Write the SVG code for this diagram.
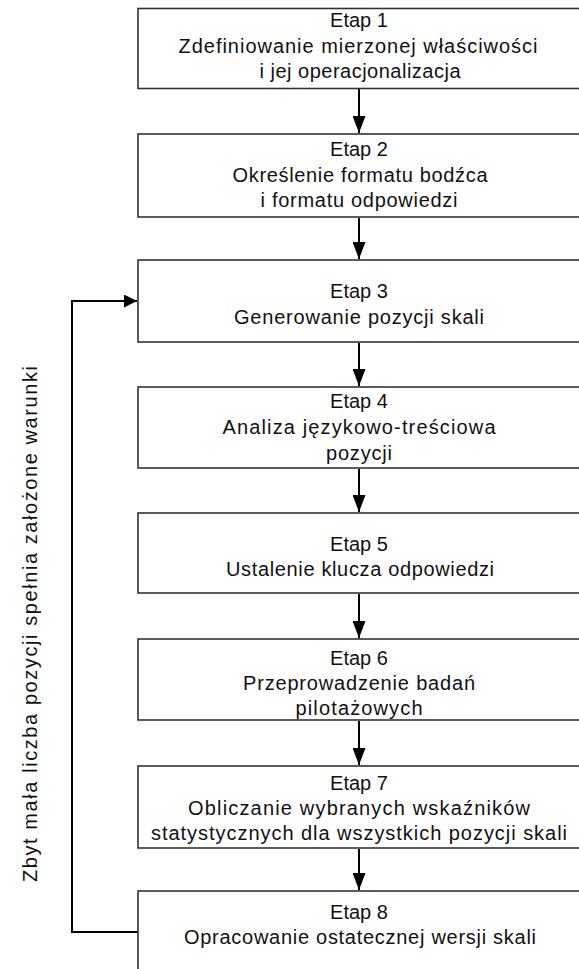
<svg xmlns="http://www.w3.org/2000/svg" width="579" height="969" viewBox="0 0 579 969">
  <style>
    .box { fill: #ffffff; stroke: #333333; stroke-width: 1.6; }
    .lbl { font-family: "Liberation Sans", Arial, sans-serif; font-size: 20px; fill: #111111; text-anchor: middle; }
    .link { fill: none; stroke: #000000; stroke-width: 2; }
  </style>
  <defs>
    <marker id="head" markerUnits="userSpaceOnUse" markerWidth="18" markerHeight="13" refX="17" refY="6.5" orient="auto">
      <path d="M0,0 L17,6.5 L0,13 Z" fill="#000000"/>
    </marker>
    <marker id="head-side" markerUnits="userSpaceOnUse" markerWidth="14" markerHeight="13" refX="13" refY="6.5" orient="auto">
      <path d="M0,0 L13,6.5 L0,13 Z" fill="#000000"/>
    </marker>
  </defs>

  <rect width="579" height="969" fill="#ffffff"/>

  <!-- connectors -->
  <g id="connectors">
    <line class="link" x1="359" y1="89" x2="359" y2="133" marker-end="url(#head)"/>
    <line class="link" x1="359" y1="218" x2="359" y2="259" marker-end="url(#head)"/>
    <line class="link" x1="359" y1="343" x2="359" y2="386" marker-end="url(#head)"/>
    <line class="link" x1="359" y1="469" x2="359" y2="512" marker-end="url(#head)"/>
    <line class="link" x1="359" y1="594" x2="359" y2="638" marker-end="url(#head)"/>
    <line class="link" x1="359" y1="721" x2="359" y2="765" marker-end="url(#head)"/>
    <line class="link" x1="359" y1="849" x2="359" y2="890" marker-end="url(#head)"/>
    <!-- feedback loop from stage 8 back to stage 3 -->
    <polyline class="link" points="138,932 72,932 72,301 137,301" marker-end="url(#head-side)"/>
  </g>

  <!-- feedback loop label -->
  <text class="lbl" transform="translate(37,624) rotate(-90)" textLength="516" lengthAdjust="spacing">Zbyt mała liczba pozycji spełnia założone warunki</text>

  <g id="etap1">
    <rect class="box" x="138" y="8.5" width="460" height="80"/>
    <text class="lbl" x="359" y="27">Etap 1</text>
    <text class="lbl" x="358" y="52.5" textLength="359" lengthAdjust="spacing">Zdefiniowanie mierzonej właściwości</text>
    <text class="lbl" x="360" y="78" textLength="201" lengthAdjust="spacing">i jej operacjonalizacja</text>
  </g>

  <g id="etap2">
    <rect class="box" x="138" y="134" width="460" height="83"/>
    <text class="lbl" x="359" y="156">Etap 2</text>
    <text class="lbl" x="360" y="181.5" textLength="255" lengthAdjust="spacing">Określenie formatu bodźca</text>
    <text class="lbl" x="359" y="207" textLength="197" lengthAdjust="spacing">i formatu odpowiedzi</text>
  </g>

  <g id="etap3">
    <rect class="box" x="138" y="260" width="460" height="82"/>
    <text class="lbl" x="359" y="298">Etap 3</text>
    <text class="lbl" x="359" y="323.5" textLength="250" lengthAdjust="spacing">Generowanie pozycji skali</text>
  </g>

  <g id="etap4">
    <rect class="box" x="138" y="387" width="460" height="81"/>
    <text class="lbl" x="359" y="408">Etap 4</text>
    <text class="lbl" x="359" y="434" textLength="273" lengthAdjust="spacing">Analiza językowo-treściowa</text>
    <text class="lbl" x="359" y="460" textLength="66" lengthAdjust="spacing">pozycji</text>
  </g>

  <g id="etap5">
    <rect class="box" x="138" y="513" width="460" height="80"/>
    <text class="lbl" x="359" y="550.5">Etap 5</text>
    <text class="lbl" x="360" y="576" textLength="268" lengthAdjust="spacing">Ustalenie klucza odpowiedzi</text>
  </g>

  <g id="etap6">
    <rect class="box" x="138" y="639" width="460" height="81"/>
    <text class="lbl" x="359" y="665">Etap 6</text>
    <text class="lbl" x="359" y="690" textLength="232" lengthAdjust="spacing">Przeprowadzenie badań</text>
    <text class="lbl" x="359" y="714.5" textLength="127" lengthAdjust="spacing">pilotażowych</text>
  </g>

  <g id="etap7">
    <rect class="box" x="138" y="766" width="460" height="82"/>
    <text class="lbl" x="359" y="790">Etap 7</text>
    <text class="lbl" x="359" y="815" textLength="342" lengthAdjust="spacing">Obliczanie wybranych wskaźników</text>
    <text class="lbl" x="359" y="840" textLength="416" lengthAdjust="spacing">statystycznych dla wszystkich pozycji skali</text>
  </g>

  <g id="etap8">
    <rect class="box" x="138" y="891" width="460" height="100"/>
    <text class="lbl" x="359" y="919">Etap 8</text>
    <text class="lbl" x="360" y="943.5" textLength="352" lengthAdjust="spacing">Opracowanie ostatecznej wersji skali</text>
  </g>
</svg>
